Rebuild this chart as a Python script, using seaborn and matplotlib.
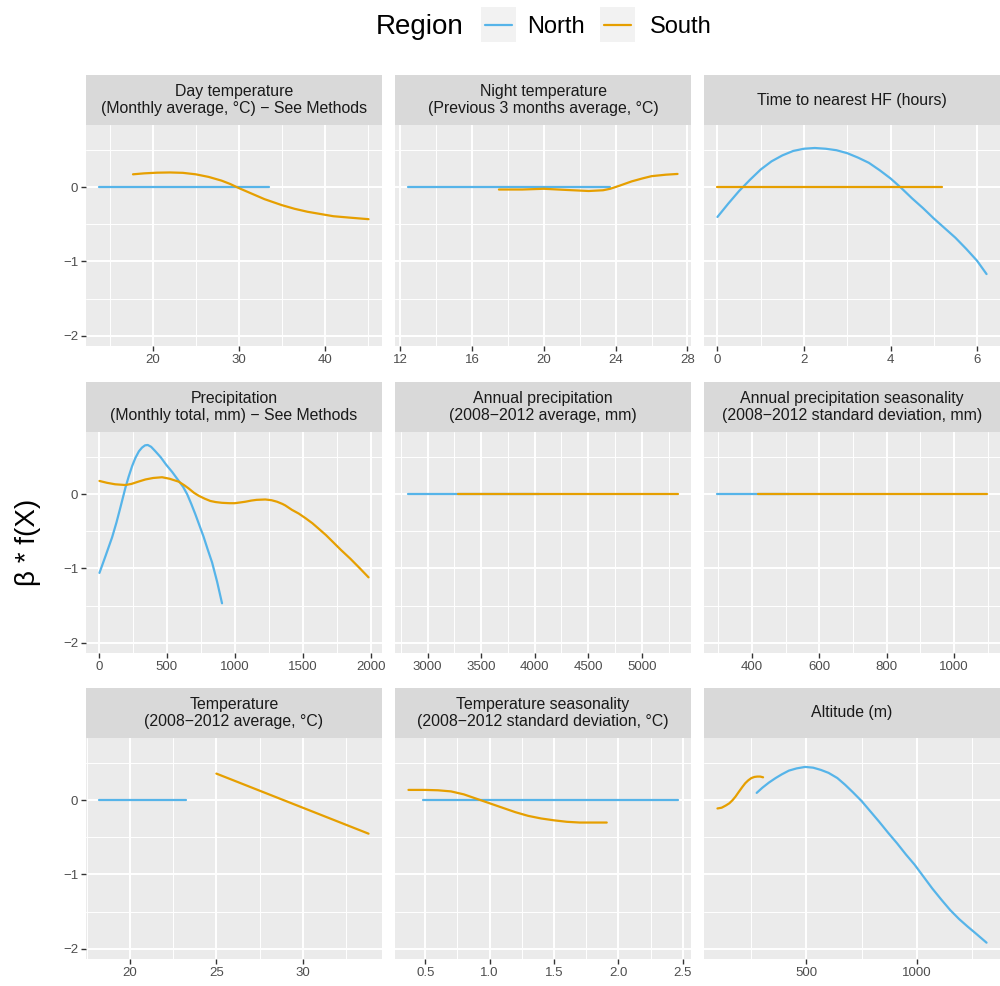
import matplotlib
matplotlib.use('Agg')
import pandas as pd
import matplotlib.pyplot as plt
import seaborn as sns
from matplotlib.patches import Rectangle
from matplotlib.lines import Line2D
from matplotlib.ticker import FixedLocator, AutoMinorLocator, MultipleLocator

# Panel titles (facet strips), row by row
M = '\u2212'
panel_titles = [
    'Day temperature\n(Monthly average, \u00b0C) ' + M + ' See Methods',
    'Night temperature\n(Previous 3 months average, \u00b0C)',
    'Time to nearest HF (hours)',
    'Precipitation\n(Monthly total, mm) ' + M + ' See Methods',
    'Annual precipitation\n(2008' + M + '2012 average, mm)',
    'Annual precipitation seasonality\n(2008' + M + '2012 standard deviation, mm)',
    'Temperature\n(2008' + M + '2012 average, \u00b0C)',
    'Temperature seasonality\n(2008' + M + '2012 standard deviation, \u00b0C)',
    'Altitude (m)',
]

# x tick positions for each panel
panel_ticks = [
    [20, 30, 40],
    [12, 16, 20, 24, 28],
    [0, 2, 4, 6],
    [0, 500, 1000, 1500, 2000],
    [3000, 3500, 4000, 4500, 5000],
    [400, 600, 800, 1000],
    [20, 25, 30],
    [0.5, 1.0, 1.5, 2.0, 2.5],
    [500, 1000],
]
panel_ticklabels = [
    ['20', '30', '40'],
    ['12', '16', '20', '24', '28'],
    ['0', '2', '4', '6'],
    ['0', '500', '1000', '1500', '2000'],
    ['3000', '3500', '4000', '4500', '5000'],
    ['400', '600', '800', '1000'],
    ['20', '25', '30'],
    ['0.5', '1.0', '1.5', '2.0', '2.5'],
    ['500', '1000'],
]

# Day temperature
day_north_x = [13.8, 33.5]
day_north_y = [0.0, 0.0]
day_south_x = [17.7, 19.0, 20.5, 22.0, 23.5, 25.0, 26.5, 28.0, 29.0, 30.0, 31.0, 32.0, 33.0, 34.0,
               35.0, 36.5, 38.0, 39.5, 41.0, 43.0, 45.1]
day_south_y = [0.175, 0.188, 0.197, 0.20, 0.195, 0.175, 0.14, 0.09, 0.045, -0.01, -0.06, -0.11, -0.16, -0.20,
               -0.24, -0.29, -0.33, -0.36, -0.39, -0.41, -0.43]

# Night temperature
night_north_x = [12.46, 23.7]
night_north_y = [0.0, 0.0]
night_south_x = [17.5, 18.8, 20.0, 21.2, 22.5, 23.3, 23.7, 24.2, 24.9, 25.5, 26.0, 26.8, 27.45]
night_south_y = [-0.03, -0.03, -0.02, -0.035, -0.05, -0.04, -0.02, 0.02, 0.08, 0.12, 0.15, 0.17, 0.18]

# Time to nearest HF
hf_north_x = [0.0, 0.25, 0.5, 0.75, 1.0, 1.25, 1.5, 1.75, 2.0, 2.25, 2.5, 2.75, 3.0, 3.25, 3.5, 3.75,
              4.0, 4.25, 4.5, 4.75, 5.0, 5.25, 5.5, 5.75, 6.0, 6.22]
hf_north_y = [-0.40, -0.22, -0.05, 0.10, 0.24, 0.35, 0.43, 0.49, 0.52, 0.53, 0.52, 0.50, 0.46, 0.40, 0.33, 0.23,
              0.12, -0.01, -0.15, -0.28, -0.42, -0.55, -0.68, -0.83, -0.99, -1.17]
hf_south_x = [0.0, 5.2]
hf_south_y = [0.0, 0.0]

# Precipitation (monthly)
prec_north_x = [5, 50, 98, 130, 160, 196, 220, 245, 269, 295, 318, 340, 360, 385, 416, 455, 495, 540,
                588, 620, 650, 680, 710, 740, 770, 800, 833, 870, 906]
prec_north_y = [-1.06, -0.83, -0.58, -0.38, -0.17, 0.09, 0.24, 0.38, 0.49, 0.58, 0.63, 0.66, 0.665, 0.64,
                0.58, 0.50, 0.40, 0.30, 0.18, 0.10, 0.0, -0.13, -0.27, -0.42, -0.57, -0.74, -0.92, -1.18, -1.47]
prec_south_x = [5, 60, 120, 196, 240, 290, 343, 400, 465, 520, 588, 630, 660, 700, 735, 780, 820, 860,
                906, 960, 1000, 1040, 1078, 1120, 1160, 1224, 1270, 1310, 1350, 1371, 1420, 1470, 1518,
                1570, 1614, 1670, 1714, 1780, 1850, 1920, 1983]
prec_south_y = [0.18, 0.155, 0.135, 0.125, 0.14, 0.17, 0.20, 0.22, 0.23, 0.21, 0.17, 0.12, 0.08, 0.02,
                -0.02, -0.06, -0.09, -0.105, -0.115, -0.12, -0.12, -0.11, -0.10, -0.085, -0.075, -0.07,
                -0.08, -0.10, -0.13, -0.15, -0.21, -0.26, -0.32, -0.39, -0.46, -0.55, -0.63, -0.75,
                -0.87, -1.00, -1.12]

# Annual precipitation
aprec_north_x = [2821, 4036]
aprec_north_y = [0.0, 0.0]
aprec_south_x = [3285, 5334]
aprec_south_y = [0.0, 0.0]

# Annual precipitation seasonality
sprec_north_x = [298, 511]
sprec_north_y = [0.0, 0.0]
sprec_south_x = [419, 1096]
sprec_south_y = [0.0, 0.0]

# Temperature (annual average)
temp_north_x = [18.24, 23.26]
temp_north_y = [0.0, 0.0]
temp_south_x = [25.0, 33.8]
temp_south_y = [0.36, -0.45]

# Temperature seasonality
stemp_north_x = [0.48, 2.46]
stemp_north_y = [0.0, 0.0]
stemp_south_x = [0.37, 0.5, 0.6, 0.7, 0.8, 0.9, 1.0, 1.1, 1.2, 1.3, 1.4, 1.5, 1.6, 1.7, 1.8, 1.91]
stemp_south_y = [0.14, 0.14, 0.135, 0.12, 0.08, 0.02, -0.04, -0.10, -0.16, -0.21, -0.245, -0.27, -0.29,
                 -0.30, -0.30, -0.30]

# Altitude
alt_north_x = [274, 300, 330, 360, 388, 420, 455, 494, 530, 565, 600, 640, 675, 710, 750, 790, 830, 871,
               911, 951, 991, 1031, 1071, 1112, 1152, 1192, 1230, 1270, 1317]
alt_north_y = [0.10, 0.17, 0.24, 0.30, 0.35, 0.40, 0.43, 0.45, 0.44, 0.41, 0.37, 0.30, 0.21, 0.11, -0.01,
               -0.15, -0.29, -0.44, -0.58, -0.73, -0.87, -1.03, -1.19, -1.34, -1.48, -1.60, -1.70, -1.80, -1.92]
alt_south_x = [96, 115, 134, 150, 164, 178, 192, 209, 222, 236, 250, 264, 277, 290, 303]
alt_south_y = [-0.11, -0.10, -0.07, -0.04, 0.0, 0.05, 0.11, 0.18, 0.23, 0.27, 0.30, 0.315, 0.32, 0.32, 0.31]

north_x = [day_north_x, night_north_x, hf_north_x, prec_north_x, aprec_north_x,
           sprec_north_x, temp_north_x, stemp_north_x, alt_north_x]
north_y = [day_north_y, night_north_y, hf_north_y, prec_north_y, aprec_north_y,
           sprec_north_y, temp_north_y, stemp_north_y, alt_north_y]
south_x = [day_south_x, night_south_x, hf_south_x, prec_south_x, aprec_south_x,
           sprec_south_x, temp_south_x, stemp_south_x, alt_south_x]
south_y = [day_south_y, night_south_y, hf_south_y, prec_south_y, aprec_south_y,
           sprec_south_y, temp_south_y, stemp_south_y, alt_south_y]

regions = ['North', 'South']
region_colors = {'North': '#56B4E9', 'South': '#E69F00'}

# Long table for seaborn
rows = []
for p in range(9):
    for xs, ys, reg in [(north_x[p], north_y[p], 'North'), (south_x[p], south_y[p], 'South')]:
        for i, (xv, yv) in enumerate(zip(xs, ys)):
            rows.append({'panel': p, 'Region': reg, 'x': xv, 'y': yv, 'order': i})
df = pd.DataFrame(rows)

sns.set_theme(style='darkgrid')
plt.rcParams['font.family'] = ['Liberation Sans', 'DejaVu Sans']
plt.rcParams['axes.unicode_minus'] = True
plt.rcParams['text.color'] = 'black'

fig = plt.figure(figsize=(10, 9.86), dpi=100)
W, H = 1000, 986
col_left = [86, 395, 704]
panel_w = 296
row_top = [125, 432, 738]
panel_h = 221
strip_h = 50
ylim = (-2.14, 0.84)

for p in range(9):
    r, c = divmod(p, 3)
    ax = fig.add_axes([col_left[c] / W, 1 - (row_top[r] + panel_h) / H, panel_w / W, panel_h / H])
    sub = df[df['panel'] == p]
    sns.lineplot(data=sub, x='x', y='y', hue='Region', hue_order=regions, palette=region_colors,
                 units='Region', estimator=None, sort=False, legend=False, linewidth=1.6, ax=ax)
    ax.set_facecolor('#EBEBEB')
    for s in ax.spines.values():
        s.set_visible(False)

    # free x scale with 5% expansion, shared y
    lo = sub['x'].min()
    hi = sub['x'].max()
    pad = (hi - lo) * 0.05
    ax.set_xlim(lo - pad, hi + pad)
    ax.set_ylim(*ylim)

    ax.xaxis.set_major_locator(FixedLocator(panel_ticks[p]))
    ax.set_xticklabels(panel_ticklabels[p])
    ax.xaxis.set_minor_locator(AutoMinorLocator(2))
    ax.yaxis.set_major_locator(FixedLocator([-2, -1, 0]))
    ax.yaxis.set_minor_locator(MultipleLocator(0.5))
    ax.grid(which='major', color='white', linewidth=1.4)
    ax.grid(which='minor', color='white', linewidth=0.7)
    ax.set_axisbelow(True)
    ax.tick_params(which='major', length=3.5, width=1.0, color='#333333',
                   labelsize=9.5, labelcolor='#4D4D4D', pad=2)
    ax.tick_params(which='minor', length=0)
    ax.tick_params(axis='x', bottom=True)
    ax.tick_params(axis='y', left=True)
    if c != 0:
        ax.tick_params(axis='y', left=False, labelleft=False)
    ax.set_xlabel('')
    ax.set_ylabel('')

    # facet strip
    sh = strip_h / panel_h
    ax.add_patch(Rectangle((0, 1), 1, sh, transform=ax.transAxes, clip_on=False,
                           facecolor='#D9D9D9', edgecolor='none'))
    ax.text(0.5, 1 + sh / 2, panel_titles[p], transform=ax.transAxes, ha='center', va='center',
            fontsize=11.4, color='#1A1A1A', linespacing=1.2)

# y axis title
fig.text(28 / W, 1 - 542 / H, '\u03b2 * f(X)', rotation=90, ha='center', va='center', fontsize=20)

# legend on top
ly = 1 - 25 / H
ty = 1 - 27 / H
fig.text(376 / W, ty, 'Region', ha='left', va='center', fontsize=20)
key_left = [481, 600]
label_left = [527, 650]
for reg, kx, tx in zip(regions, key_left, label_left):
    fig.patches.append(Rectangle((kx / W, 1 - 42 / H), 35 / W, 35 / H, transform=fig.transFigure,
                                 facecolor='#F2F2F2', edgecolor='none'))
    fig.add_artist(Line2D([(kx + 4) / W, (kx + 31) / W], [ly, ly], color=region_colors[reg],
                          linewidth=1.6, transform=fig.transFigure))
    fig.text(tx / W, ty, reg, ha='left', va='center', fontsize=17)

fig.savefig('out.png', dpi=100, facecolor='white')
